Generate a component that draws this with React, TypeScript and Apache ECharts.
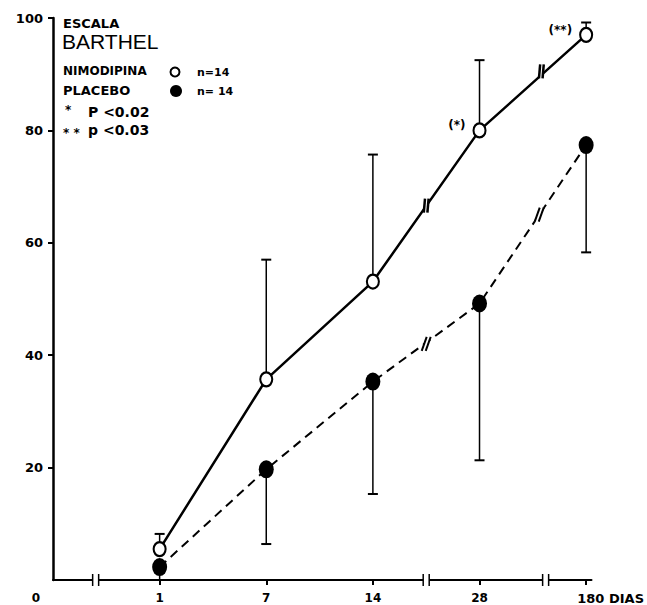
import React, { useEffect, useRef } from "react";
import * as echarts from "echarts";

const days = ["1", "7", "14", "28", "180"];
const dayIndex = [0, 1, 2, 3, 4];
const nimodipina = [5.5, 35.7, 53.1, 80, 97];
const nimodipinaUpper = [8.2, 57, 75.7, 92.5, 99.2];
const placebo = [2.3, 19.7, 35.3, 49.2, 77.4];
const placeboLower = [0, 6.4, 15.3, 21.3, 58.3];
const nimodipinaNotes = ["", "", "", "(*)", "(**)"];
const yTicks = [20, 40, 60, 80, 100];
const axisBreaks = [-0.6, 2.5, 3.62];
const nimodipinaBreaks = [[2.5, 66.6], [3.58, 90.5]];
const placeboBreaks = [[2.5, 42], [3.56, 65]];

const FONT = '"DejaVu Sans", sans-serif';
const ELLIPSE = "path://M0,-1A1,1,0,1,1,0,1A1,1,0,1,1,0,-1Z";

function errorBarItem(params: any, api: any) {
  const x = api.value(0);
  const p1 = api.coord([x, api.value(1)]);
  const p2 = api.coord([x, api.value(2)]);
  return {
    type: "group",
    children: [
      { type: "line", shape: { x1: p1[0], y1: p1[1], x2: p2[0], y2: p2[1] }, style: { stroke: "#000", lineWidth: 1.5 } },
      { type: "line", shape: { x1: p2[0] - 5, y1: p2[1], x2: p2[0] + 5, y2: p2[1] }, style: { stroke: "#000", lineWidth: 2 } },
    ],
  };
}

function makeLineBreak(s: number, h: number, g: number, w: number) {
  return (params: any, api: any) => {
    const p = api.coord([api.value(0), api.value(1)]);
    return {
      type: "group",
      children: [
        {
          type: "polygon",
          shape: { points: [[p[0] - g + s, p[1] - h], [p[0] + g + s, p[1] - h], [p[0] + g - s, p[1] + h], [p[0] - g - s, p[1] + h]] },
          style: { fill: "#fff" },
        },
        { type: "line", shape: { x1: p[0] - g - s, y1: p[1] + h, x2: p[0] - g + s, y2: p[1] - h }, style: { stroke: "#000", lineWidth: w } },
        { type: "line", shape: { x1: p[0] + g - s, y1: p[1] + h, x2: p[0] + g + s, y2: p[1] - h }, style: { stroke: "#000", lineWidth: w } },
      ],
    };
  };
}

function axisBreakItem(params: any, api: any) {
  const p = api.coord([api.value(0), 0]);
  return {
    type: "group",
    children: [
      { type: "rect", shape: { x: p[0] - 3, y: p[1] - 2, width: 6, height: 4 }, style: { fill: "#fff" } },
      { type: "line", shape: { x1: p[0] - 3, y1: p[1] - 6, x2: p[0] - 3, y2: p[1] + 6 }, style: { stroke: "#000", lineWidth: 1.5 } },
      { type: "line", shape: { x1: p[0] + 3, y1: p[1] - 6, x2: p[0] + 3, y2: p[1] + 6 }, style: { stroke: "#000", lineWidth: 1.5 } },
    ],
  };
}

function txt(text: string, x: number, y: number, font: string) {
  return {
    type: "text",
    x,
    y,
    style: { text, font, fill: "#000", align: "left", verticalAlign: "middle", textAlign: "left", textVerticalAlign: "middle" },
  };
}

export default function App() {
  const ref = useRef<HTMLDivElement>(null);
  useEffect(() => {
    const chart = echarts.init(ref.current!, null, { renderer: "svg" });
    const labelStyle = { fontFamily: FONT, fontWeight: "bold", fontSize: 12, color: "#000" };
    chart.setOption({
      animation: false,
      backgroundColor: "#fff",
      grid: { left: 53, right: 55, top: 18, bottom: 24 },
      xAxis: {
        type: "value",
        min: -1,
        max: 4.05,
        interval: 1,
        splitLine: { show: false },
        axisLine: { onZero: false, lineStyle: { color: "#000", width: 2 } },
        axisTick: { customValues: dayIndex, length: 5, lineStyle: { color: "#000", width: 2 } },
        axisLabel: {
          customValues: [-1, ...dayIndex],
          margin: 12,
          ...labelStyle,
          formatter: (v: number) => {
            const i = Math.round(v);
            if (i === -1) return "{z|0}";
            if (i === 4) return "{e|" + days[i] + " DIAS}";
            return days[i];
          },
          rich: {
            z: { ...labelStyle, padding: [0, 34, 0, 0] },
            e: { ...labelStyle, fontSize: 13, padding: [0, 0, 0, 49] },
          },
        },
      },
      yAxis: {
        type: "value",
        min: 0,
        max: 100,
        interval: 20,
        splitLine: { show: false },
        axisLine: { show: true, onZero: false, lineStyle: { color: "#000", width: 2.5 } },
        axisTick: { show: true, customValues: yTicks, length: 5, lineStyle: { color: "#000", width: 2 } },
        axisLabel: { customValues: yTicks, margin: 10, ...labelStyle, fontSize: 13 },
      },
      graphic: [
        txt("ESCALA", 63, 23, `bold 13px ${FONT}`),
        txt("BARTHEL", 62, 41, `21px "Liberation Sans", Arial, sans-serif`),
        txt("NIMODIPINA", 63, 71, `bold 12px ${FONT}`),
        { type: "circle", shape: { cx: 175, cy: 72, r: 4.5 }, style: { fill: "#fff", stroke: "#000", lineWidth: 2 } },
        txt("n=14", 197, 72, `bold 11px ${FONT}`),
        txt("PLACEBO", 63, 90, `bold 13px ${FONT}`),
        { type: "circle", shape: { cx: 176, cy: 91, r: 6 }, style: { fill: "#000" } },
        txt("n= 14", 197, 91, `bold 11px ${FONT}`),
        txt("*", 65, 110, `bold 12px ${FONT}`),
        txt("P <0.02", 88, 112, `bold 14px ${FONT}`),
        txt("* *", 63, 133, `bold 12px ${FONT}`),
        txt("p <0.03", 88, 130, `bold 14px ${FONT}`),
      ],
      series: [
        {
          type: "custom",
          name: "nimodipina-err",
          renderItem: errorBarItem,
          encode: { x: 0, y: 1 },
          data: dayIndex.map((x, i) => [x, nimodipina[i], nimodipinaUpper[i]]),
          z: 1,
          clip: false,
        },
        {
          type: "custom",
          name: "placebo-err",
          renderItem: errorBarItem,
          encode: { x: 0, y: 1 },
          data: dayIndex.map((x, i) => [x, placebo[i], placeboLower[i]]),
          z: 1,
          clip: false,
        },
        {
          type: "line",
          name: "PLACEBO",
          data: dayIndex.map((x, i) => [x, placebo[i]]),
          symbol: ELLIPSE,
          symbolSize: [15, 18],
          itemStyle: { color: "#000" },
          lineStyle: { color: "#000", width: 2, type: [9, 6] },
          z: 3,
        },
        {
          type: "line",
          name: "NIMODIPINA",
          data: dayIndex.map((x, i) =>
            nimodipinaNotes[i]
              ? {
                  value: [x, nimodipina[i]],
                  label: {
                    show: true,
                    position: "left",
                    distance: 7,
                    offset: [0, -5],
                    formatter: nimodipinaNotes[i],
                    fontFamily: FONT,
                    fontWeight: "bold",
                    fontSize: 12,
                    color: "#000",
                  },
                }
              : { value: [x, nimodipina[i]] }
          ),
          symbol: ELLIPSE,
          symbolSize: [12, 14],
          itemStyle: { color: "#fff", borderColor: "#000", borderWidth: 2.2 },
          lineStyle: { color: "#000", width: 2.5 },
          z: 4,
        },
        {
          type: "custom",
          name: "nimodipina-breaks",
          renderItem: makeLineBreak(0.6, 7, 1.8, 2.5),
          encode: { x: 0, y: 1 },
          data: nimodipinaBreaks,
          z: 5,
          clip: false,
        },
        {
          type: "custom",
          name: "placebo-breaks",
          renderItem: makeLineBreak(2.5, 7, 2, 2),
          encode: { x: 0, y: 1 },
          data: placeboBreaks,
          z: 5,
          clip: false,
        },
        {
          type: "custom",
          name: "axis-breaks",
          renderItem: axisBreakItem,
          encode: { x: 0, y: 1 },
          data: axisBreaks.map((x) => [x, 0]),
          z: 5,
          clip: false,
        },
      ],
    });
    return () => chart.dispose();
  }, []);
  return <div ref={ref} style={{ position: "fixed", left: 0, top: 0, width: 647, height: 605 }} />;
}
